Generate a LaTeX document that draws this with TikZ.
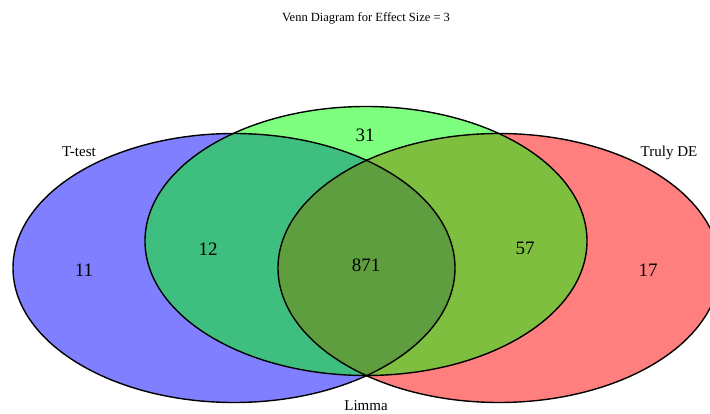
\documentclass[tikz,border=0pt]{standalone}
\usepackage{fontspec}
\setmainfont{Liberation Serif}
\tikzset{setname/.style={anchor=base,font=\fontsize{15}{18}\selectfont},
  count/.style={anchor=base,font=\fontsize{19}{22}\selectfont}}

\begin{document}
\begin{tikzpicture}[x=1pt,y=-1pt]
        \clip (0,0) rectangle (710,414);
        \fill[blue,fill opacity=0.5] (234,268) ellipse [x radius=221pt,y radius=134.5pt];
        \fill[red,fill opacity=0.5] (499,268) ellipse [x radius=221pt,y radius=134.5pt];
        \fill[green,fill opacity=0.5] (366,241) ellipse [x radius=221pt,y radius=134.5pt];
        \draw[line width=1.4pt] (234,268) ellipse [x radius=221pt,y radius=134.5pt];
        \draw[line width=1.4pt] (499,268) ellipse [x radius=221pt,y radius=134.5pt];
        \draw[line width=1.4pt] (366,241) ellipse [x radius=221pt,y radius=134.5pt];

        \node[anchor=base,font=\fontsize{12.5}{15}\selectfont] (title) at (366,22) {Venn Diagram for Effect Size = 3};
        \node[setname] (ttest) at (79,157) {T-test};
        \node[setname] (truly) at (669,157) {Truly DE};
        \node[setname,inner sep=0pt] (limma) at (366,410) {Limma};

        \node[count] (only_t) at (84,277) {11};
        \node[count] (t_l) at (208,256) {12};
        \node[count] (only_l) at (365,142) {31};
        \node[count] (all) at (366,272) {871};
        \node[count] (l_d) at (525,255) {57};
        \node[count] (only_d) at (648,277) {17};
      \end{tikzpicture}
\end{document}
